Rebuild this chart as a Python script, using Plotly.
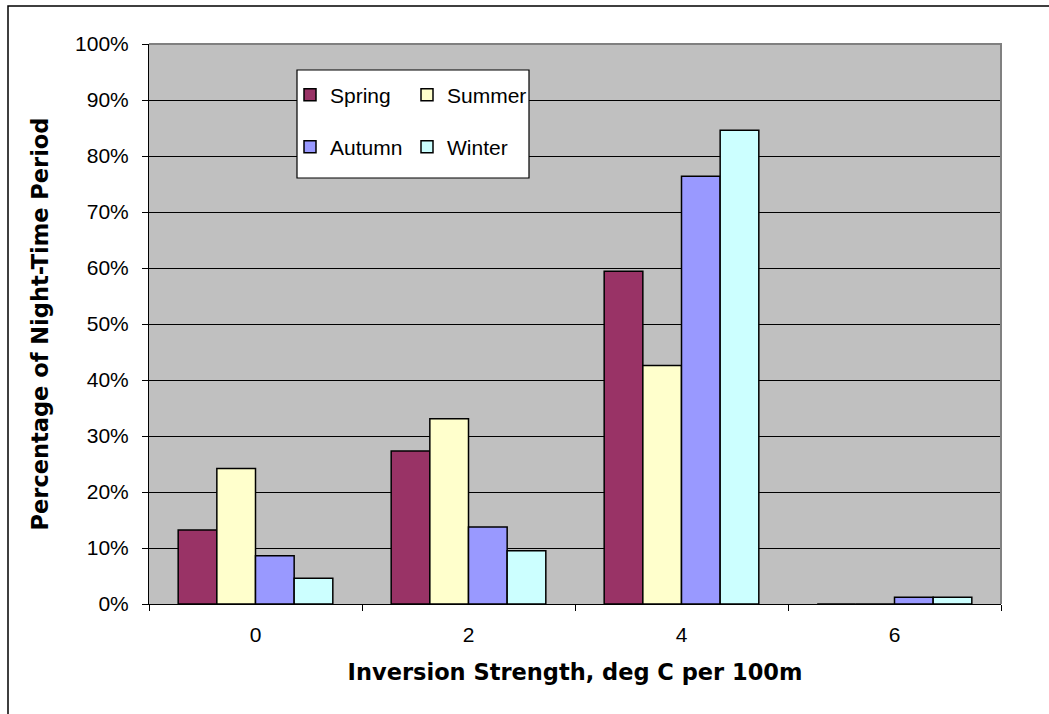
import plotly.graph_objects as go

categories = ["0", "2", "4", "6"]
spring = [13.2, 27.3, 59.4, 0.0]
summer = [24.2, 33.1, 42.6, 0.0]
autumn = [8.6, 13.75, 76.4, 1.2]
winter = [4.6, 9.5, 84.6, 1.2]
series_names = ["Spring", "Summer", "Autumn", "Winter"]
y_ticks = [0, 10, 20, 30, 40, 50, 60, 70, 80, 90, 100]
y_tick_labels = ["0%", "10%", "20%", "30%", "40%", "50%", "60%", "70%", "80%", "90%", "100%"]

colors = ["#993366", "#FFFFCC", "#9999FF", "#CCFFFF"]
legends = ["legend", "legend2", "legend3", "legend4"]
TFONT = "DejaVu Sans"
LFONT = "Liberation Sans"

W, H = 1049, 714
ML, MR, MT, MB = 149, 48, 44, 110
PW, PH = W - ML - MR, H - MT - MB


def px_x(px):
    return (px - ML) / PW


def px_y(py):
    return (H - MB - py) / PH


fig = go.Figure()
for name, vals, col, lg in zip(series_names, [spring, summer, autumn, winter], colors, legends):
    fig.add_trace(go.Bar(
        x=categories, y=vals, name=name, legend=lg,
        marker=dict(color=col, line=dict(color="black", width=1.5)),
    ))

leg_common = dict(
    bgcolor="rgba(0,0,0,0)", borderwidth=0,
    font=dict(family=LFONT, size=21, color="black"),
    xanchor="left", yanchor="middle",
)
row1, row2 = px_y(95), px_y(147)
col1, col2 = px_x(290), px_x(407)

fig.update_layout(
    width=W, height=H,
    margin=dict(l=ML, r=MR, t=MT, b=MB, autoexpand=False),
    paper_bgcolor="white", plot_bgcolor="#C0C0C0",
    barmode="group", bargap=0.274, bargroupgap=0,
    font=dict(family=LFONT, color="black"),
    showlegend=True,
    legend=dict(x=col1, y=row1, **leg_common),
    legend2=dict(x=col2, y=row1, **leg_common),
    legend3=dict(x=col1, y=row2, **leg_common),
    legend4=dict(x=col2, y=row2, **leg_common),
    xaxis=dict(
        type="category", tickson="boundaries", ticks="outside", ticklen=6,
        tickcolor="black", showline=True, linecolor="black", linewidth=1,
        showgrid=False, tickfont=dict(family=LFONT, size=21, color="black"),
        ticklabelstandoff=12,
        title=dict(text="<b>Inversion Strength, deg C per 100m</b>",
                   font=dict(family=TFONT, size=22.5, color="black"), standoff=19),
    ),
    yaxis=dict(
        range=[0, 100], tickmode="array", tickvals=y_ticks, ticktext=y_tick_labels,
        ticks="outside", ticklen=6, tickcolor="black", showline=True, linecolor="black",
        linewidth=1, showgrid=True, gridcolor="black", gridwidth=1,
        zeroline=False, tickfont=dict(family=LFONT, size=21, color="black"),
        ticklabelstandoff=9,
        title=dict(text="<b>Percentage of Night-Time Period</b>",
                   font=dict(family=TFONT, size=22.5, color="black"), standoff=20),
    ),
    shapes=[
        # legend box
        dict(type="rect", xref="paper", yref="paper",
             x0=px_x(297), x1=px_x(529), y0=px_y(178), y1=px_y(70),
             fillcolor="white", line=dict(color="black", width=1.2), layer="above"),
        # plot area border (top and right)
        dict(type="path", xref="paper", yref="paper",
             path="M 0,1 L 1,1 L 1,0", line=dict(color="#808080", width=2), layer="above"),
        # outer chart border
        dict(type="rect", xref="paper", yref="paper",
             x0=px_x(8), x1=px_x(1070), y0=px_y(740), y1=px_y(6),
             fillcolor="rgba(0,0,0,0)", line=dict(color="black", width=1.5), layer="above"),
    ],
)

fig.write_html("out.html")
